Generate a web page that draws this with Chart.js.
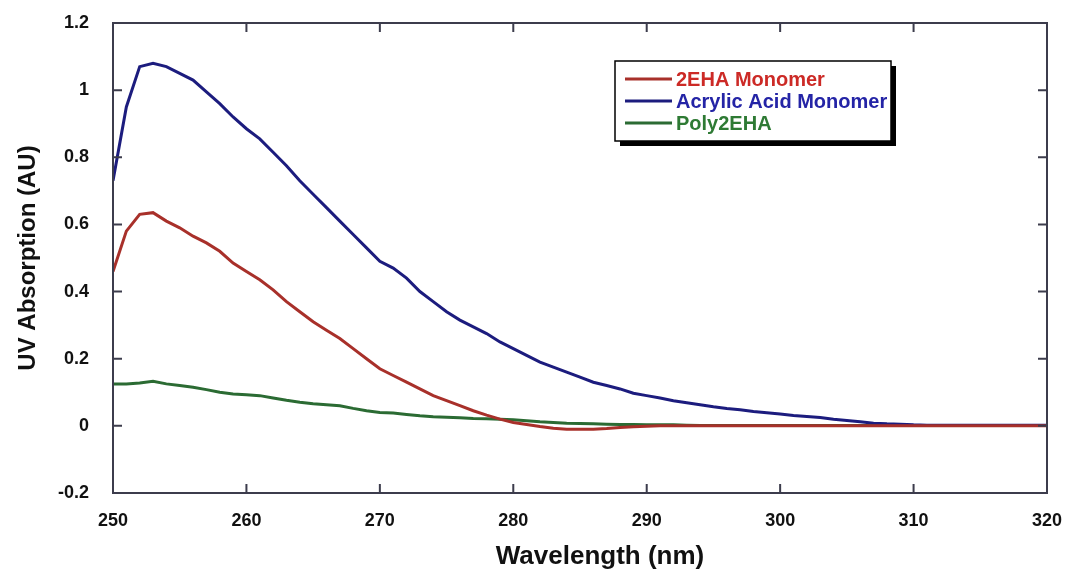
<!DOCTYPE html>
<html>
<head>
<meta charset="utf-8">
<title>UV Absorption</title>
<script src="https://cdn.jsdelivr.net/npm/chart.js@4.4.1/dist/chart.umd.min.js"></script>
<style>
    html, body { margin: 0; padding: 0; background: #ffffff; }
    #wrap { width: 1065px; height: 573px; position: relative; }
</style>
</head>
<body>
<div id="wrap"><canvas id="uvChart"></canvas></div>
<script>
// Wavelengths (nm), one reading per nm
const wavelengths = [];
for (let w = 250; w <= 320; w++) wavelengths.push(w);

// 2EHA Monomer
const ehaMonomer = [
    0.46, 0.58, 0.63, 0.635, 0.61, 0.59, 0.565, 0.545, 0.52, 0.485,
    0.46, 0.435, 0.405, 0.37, 0.34, 0.31, 0.285, 0.26, 0.23, 0.20,
    0.17, 0.15, 0.13, 0.11, 0.09, 0.075, 0.06, 0.045, 0.032, 0.02,
    0.01, 0.004, -0.002, -0.007, -0.01, -0.01, -0.01, -0.008, -0.005, -0.003,
    -0.001, 0, 0, 0, 0, 0, 0, 0, 0, 0,
    0, 0, 0, 0, 0, 0, 0, 0, 0, 0,
    0, 0, 0, 0, 0, 0, 0, 0, 0, 0,
    0
];

// Acrylic Acid Monomer
const acrylicAcid = [
    0.73, 0.95, 1.07, 1.08, 1.07, 1.05, 1.03, 0.995, 0.96, 0.92,
    0.885, 0.855, 0.815, 0.775, 0.73, 0.69, 0.65, 0.61, 0.57, 0.53,
    0.49, 0.47, 0.44, 0.40, 0.37, 0.34, 0.315, 0.295, 0.275, 0.25,
    0.23, 0.21, 0.19, 0.175, 0.16, 0.145, 0.13, 0.12, 0.11, 0.097,
    0.09, 0.083, 0.075, 0.069, 0.063, 0.057, 0.052, 0.048, 0.043, 0.039,
    0.035, 0.031, 0.028, 0.025, 0.02, 0.016, 0.012, 0.008, 0.006, 0.005,
    0.003, 0.002, 0.002, 0.002, 0.002, 0.002, 0.002, 0.002, 0.002, 0.002,
    0.002
];

// Poly2EHA
const poly2eha = [
    0.125, 0.125, 0.128, 0.133, 0.125, 0.12, 0.115, 0.108, 0.10, 0.095,
    0.093, 0.09, 0.083, 0.076, 0.07, 0.066, 0.063, 0.06, 0.052, 0.045,
    0.04, 0.038, 0.034, 0.03, 0.027, 0.026, 0.024, 0.022, 0.021, 0.02,
    0.018, 0.015, 0.012, 0.01, 0.008, 0.007, 0.006, 0.005, 0.004, 0.004,
    0.003, 0.003, 0.003, 0.002, 0.001, 0.001, 0.001, 0.001, 0.001, 0.001,
    0.001, 0.001, 0.001, 0.001, 0.001, 0.001, 0.001, 0.001, 0.001, 0.001,
    0.001, 0.001, 0.001, 0.001, 0.001, 0.001, 0.001, 0.001, 0.001, 0.001,
    0.001
];

const seriesNames = ['2EHA Monomer', 'Acrylic Acid Monomer', 'Poly2EHA'];
const lineColors = ['#a8302a', '#1c1c7e', '#2b6b33'];
const textColors = ['#cc2a26', '#2424a6', '#2e7a34'];

const xTicks = [250, 260, 270, 280, 290, 300, 310, 320];
const yTicks = [-0.2, 0, 0.2, 0.4, 0.6, 0.8, 1, 1.2];

const toPoints = vals => wavelengths.map((w, i) => ({ x: w, y: vals[i] }));

const frameColor = '#3c3c4c';
const boldFont = '"Liberation Sans", Arial, sans-serif';

// Box round the plot with inward tick marks on all four sides
const framePlugin = {
    id: 'frame',
    afterDatasetsDraw(chart) {
        const { ctx, chartArea: a, scales } = chart;
        ctx.save();
        ctx.strokeStyle = frameColor;
        ctx.lineWidth = 2;
        ctx.strokeRect(a.left, a.top, a.right - a.left, a.bottom - a.top);
        ctx.beginPath();
        const len = 9;
        xTicks.forEach(v => {
            const px = scales.x.getPixelForValue(v);
            ctx.moveTo(px, a.bottom); ctx.lineTo(px, a.bottom - len);
            ctx.moveTo(px, a.top); ctx.lineTo(px, a.top + len);
        });
        yTicks.forEach(v => {
            const py = scales.y.getPixelForValue(v);
            ctx.moveTo(a.left, py); ctx.lineTo(a.left + len, py);
            ctx.moveTo(a.right, py); ctx.lineTo(a.right - len, py);
        });
        ctx.stroke();
        ctx.restore();
    }
};

// Legend box with a hard black drop shadow, plus the x axis title
const legendPlugin = {
    id: 'boxLegend',
    afterDraw(chart) {
        const { ctx, chartArea: a } = chart;
        const bx = 615, by = 61, bw = 276, bh = 80;
        ctx.save();
        ctx.fillStyle = '#000000';
        ctx.fillRect(bx + 5, by + 5, bw, bh);
        ctx.fillStyle = '#ffffff';
        ctx.fillRect(bx, by, bw, bh);
        ctx.strokeStyle = '#000000';
        ctx.lineWidth = 1.5;
        ctx.strokeRect(bx, by, bw, bh);

        ctx.font = 'bold 20px ' + boldFont;
        ctx.textBaseline = 'middle';
        chart.data.datasets.forEach((ds, i) => {
            const y = by + 18 + i * 22;
            ctx.strokeStyle = ds.borderColor;
            ctx.lineWidth = 3;
            ctx.beginPath();
            ctx.moveTo(bx + 10, y);
            ctx.lineTo(bx + 57, y);
            ctx.stroke();
            ctx.fillStyle = textColors[i];
            ctx.fillText(ds.label, bx + 61, y + 1);
        });

        ctx.fillStyle = '#111111';
        ctx.font = 'bold 26px ' + boldFont;
        ctx.textAlign = 'center';
        ctx.textBaseline = 'middle';
        ctx.fillText('Wavelength (nm)', (a.left + a.right) / 2 + 20, 557);
        ctx.restore();
    }
};

const ctx = document.getElementById('uvChart');
new Chart(ctx, {
    type: 'line',
    data: {
        datasets: [ehaMonomer, acrylicAcid, poly2eha].map((vals, i) => ({
            label: seriesNames[i],
            data: toPoints(vals),
            borderColor: lineColors[i],
            backgroundColor: lineColors[i],
            borderWidth: 3,
            pointRadius: 0,
            tension: 0,
            fill: false
        }))
    },
    options: {
        responsive: true,
        maintainAspectRatio: false,
        animation: false,
        layout: { padding: { left: 0, right: 18, top: 23, bottom: 0 } },
        plugins: {
            legend: { display: false },
            tooltip: { enabled: false }
        },
        scales: {
            x: {
                type: 'linear',
                min: 250,
                max: 320,
                afterFit: s => { s.height = 80; s.paddingLeft = 0; s.paddingRight = 0; },
                afterBuildTicks: s => { s.ticks = xTicks.map(v => ({ value: v })); },
                grid: { display: false, drawTicks: false },
                border: { display: false },
                ticks: {
                    padding: 17,
                    color: '#111111',
                    font: { family: boldFont, size: 18, weight: 'bold' },
                    maxRotation: 0
                }
            },
            y: {
                min: -0.2,
                max: 1.2,
                afterFit: s => { s.width = 113; s.paddingTop = 0; s.paddingBottom = 0; },
                afterBuildTicks: s => { s.ticks = yTicks.map(v => ({ value: v })); },
                grid: { display: false, drawTicks: false },
                border: { display: false },
                ticks: {
                    padding: 24,
                    color: '#111111',
                    font: { family: boldFont, size: 18, weight: 'bold' },
                    callback: v => String(Number(v.toFixed(1)))
                },
                title: {
                    display: true,
                    text: 'UV Absorption (AU)',
                    color: '#111111',
                    font: { family: boldFont, size: 24, weight: 'bold' },
                    padding: { top: 14, bottom: 0 }
                }
            }
        }
    },
    plugins: [framePlugin, legendPlugin]
});
</script>
</body>
</html>
